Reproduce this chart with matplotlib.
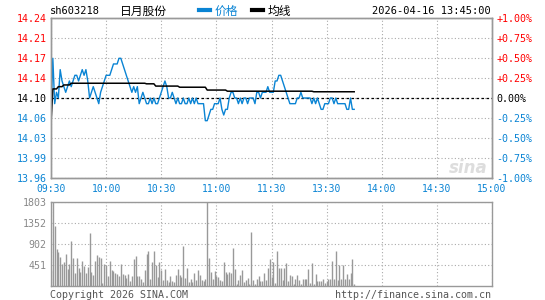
import matplotlib
matplotlib.use('Agg')
import matplotlib.pyplot as plt
from matplotlib.lines import Line2D
import numpy as np

# --- data ---
code = 'sh603218'
name = '日月股份'
stamp = '2026-04-16 13:45:00'
prev_close = 14.10

morning_price = [
    14.07, 14.17, 14.09, 14.11, 14.10, 14.15, 14.13, 14.12, 14.11, 14.12,
    14.13, 14.12, 14.13, 14.14, 14.14, 14.13, 14.14, 14.15, 14.14, 14.15,
    14.13, 14.10, 14.11, 14.12, 14.11, 14.10, 14.09, 14.11, 14.12, 14.13,
    14.14, 14.14, 14.14, 14.15, 14.16, 14.16, 14.16, 14.17, 14.17, 14.16,
    14.15, 14.14, 14.13, 14.12, 14.11, 14.12, 14.11, 14.12, 14.09, 14.10,
    14.11, 14.10, 14.09, 14.09, 14.10, 14.09, 14.10, 14.09, 14.09, 14.10,
    14.11, 14.12, 14.13, 14.12, 14.10, 14.10, 14.11, 14.10, 14.09, 14.10,
    14.09, 14.09, 14.10, 14.09, 14.09, 14.10, 14.09, 14.10, 14.09, 14.10,
    14.09, 14.09, 14.09, 14.09, 14.06, 14.06, 14.07, 14.08, 14.08, 14.09,
    14.09, 14.09, 14.10, 14.08, 14.07, 14.08, 14.08, 14.10, 14.11, 14.11,
    14.10, 14.10, 14.09, 14.10, 14.09, 14.10, 14.10, 14.09, 14.10, 14.10,
    14.10, 14.09, 14.11, 14.11, 14.10, 14.11, 14.11, 14.11, 14.12, 14.11,
    14.11,
]
afternoon_price = [
    14.11, 14.13, 14.13, 14.14, 14.14, 14.13, 14.12, 14.11, 14.10, 14.09,
    14.09, 14.09, 14.09, 14.10, 14.10, 14.11, 14.10, 14.10, 14.10, 14.10,
    14.10, 14.09, 14.10, 14.09, 14.10, 14.09, 14.08, 14.08, 14.09, 14.09,
    14.09, 14.10, 14.10, 14.09, 14.10, 14.09, 14.09, 14.09, 14.09, 14.09,
    14.08, 14.08, 14.10, 14.08, 14.08,
]

# average price line, as levels and how many minutes each level lasts
avg_levels = [14.056, 14.116, 14.120, 14.123, 14.126, 14.125, 14.121, 14.119, 14.114, 14.112, 14.111]
avg_runs = [1, 3, 3, 4, 41, 5, 13, 15, 11, 47, 23]

morning_vol = [
    336, 1803, 1280, 800, 730, 622, 465, 515, 680, 358, 465, 960, 594, 279, 594, 379,
    300, 530, 430, 272, 400, 1130, 293, 229, 530, 658, 615, 594, 57, 480, 458, 208,
    530, 336, 315, 272, 250, 208, 465, 250, 229, 179, 250, 100, 208, 572, 637, 208,
    208, 143, 79, 336, 680, 744, 157, 508, 744, 444, 186, 508, 336, 122, 358, 122,
    93, 208, 107, 93, 229, 372, 229, 186, 851, 165, 379, 79, 143, 93, 272, 122,
    336, 229, 122, 100, 143, 1803, 594, 293, 143, 315, 208, 186, 122, 100, 508, 293,
    250, 293, 272, 809, 358, 36, 122, 229, 336, 93, 122, 165, 36, 1152, 122, 50,
    143, 208, 100, 100, 272, 122, 379, 572, 186,
]
afternoon_vol = [
    515, 64, 744, 394, 394, 122, 394, 487, 107, 229, 208, 50, 143, 229, 122, 50,
    143, 143, 143, 358, 57, 487, 36, 250, 100, 107, 107, 143, 57, 107, 143, 143,
    530, 143, 744, 129, 444, 143, 444, 143, 250, 143, 272, 572, 36,
]

pct_ticks = [-1.0, -0.75, -0.5, -0.25, 0.0, 0.25, 0.5, 0.75, 1.0]
price_labels = ['13.96', '13.99', '14.03', '14.06', '14.10', '14.14', '14.17', '14.21', '14.24']
pct_labels = ['-1.00%', '-0.75%', '-0.50%', '-0.25%', '0.00%', '+0.25%', '+0.50%', '+0.75%', '+1.00%']
time_ticks = [0, 30, 60, 90, 120, 150, 180, 210, 240]
time_labels = ['09:30', '10:00', '10:30', '11:00', '11:30', '13:30', '14:00', '14:30', '15:00']
vol_ticks = [451, 902, 1352, 1803]

BLUE = '#0a84d4'
RED = '#ff0000'
GRAY = '#999999'
mono = ['DejaVu Sans Mono', 'Noto Sans CJK SC']
plt.rcParams['font.family'] = mono

price = np.array(morning_price + afternoon_price)
vol = np.array(morning_vol + afternoon_vol)
avg = np.repeat(avg_levels, avg_runs)
t = np.arange(len(price))

fig = plt.figure(figsize=(5.45, 3.0), dpi=100)
ax = fig.add_axes([51/545, 122/300, 441/545, 160/300])
axv = fig.add_axes([51/545, 14/300, 441/545, 84/300])

# --- price panel ---
levels = [prev_close * (1 + p / 100) for p in pct_ticks]
ax.set_xlim(0, 240)
ax.set_ylim(levels[0], levels[-1])
ax.set_xticks(time_ticks)
ax.set_xticklabels(time_labels, color=BLUE, fontsize=7)
ax.set_yticks(levels)
ax.set_yticklabels(price_labels, fontsize=7.2)
for lab, p in zip(ax.get_yticklabels(), pct_ticks):
    lab.set_color(RED if p > 0 else (BLUE if p < 0 else 'black'))
ax.tick_params(length=0, pad=3)
ax.tick_params(axis='x', pad=4)
ax.grid(True, color='#aaaaaa', linestyle=(0, (1, 2)), lw=0.8)
ax.axhline(prev_close, color='black', lw=0.9, linestyle=(0, (2, 2)), zorder=3)
ax.plot(t, price, color=BLUE, lw=1.0, zorder=4)
ax.plot(t, avg, color='black', lw=1.1, zorder=5)

axr = ax.twinx()
axr.set_ylim(ax.get_ylim())
axr.set_yticks(levels)
axr.set_yticklabels(pct_labels, fontsize=7.2)
for lab, p in zip(axr.get_yticklabels(), pct_ticks):
    lab.set_color(RED if p > 0 else (BLUE if p < 0 else 'black'))
axr.tick_params(length=0, pad=3)

for a in (ax, axr, axv):
    for s in a.spines.values():
        s.set_color(GRAY)
        s.set_linewidth(1)

# --- volume panel ---
axv.vlines(t, 0, vol, color='#999999', lw=1)
axv.set_xlim(0, 240)
axv.set_ylim(0, max(vol))
axv.set_xticks(time_ticks)
axv.set_xticklabels([])
axv.set_yticks(vol_ticks)
axv.set_yticklabels([str(v) for v in vol_ticks], color='#888888', fontsize=7.2)
axv.tick_params(length=0, pad=3)
axv.grid(True, color='#aaaaaa', linestyle=(0, (1, 2)), lw=0.8)

# --- header, watermark and footer ---
fig.text(50/545, 0.963, code, fontsize=7.5, va='center', ha='left')
fig.text(120/545, 0.963, name, fontsize=8.5, va='center', ha='left', family=['Noto Sans CJK SC'])
handles = [Line2D([], [], color=BLUE, lw=3), Line2D([], [], color='black', lw=3)]
leg = fig.legend(handles, ['价格', '均线'], loc='center left', bbox_to_anchor=(193/545, 0.963),
                 ncol=2, frameon=False, handlelength=0.9, handletextpad=0.4, columnspacing=1.2,
                 prop={'family': 'Noto Sans CJK SC', 'size': 8.5}, borderpad=0)
leg.get_texts()[0].set_color(BLUE)
fig.text(491/545, 0.963, stamp, fontsize=7.5, va='center', ha='right')
fig.text(468/545, 0.44, 'sina', fontsize=12, style='italic', weight='bold', color='#dddddd',
         ha='center', va='center', family='DejaVu Sans')
fig.text(50/545, 0.0, 'Copyright 2026 SINA.COM', fontsize=7.2, color='#555555', ha='left', va='bottom')
fig.text(491/545, 0.0, 'http://finance.sina.com.cn', fontsize=7.2, color='#555555', ha='right', va='bottom')

fig.savefig('out.png', dpi=100)
